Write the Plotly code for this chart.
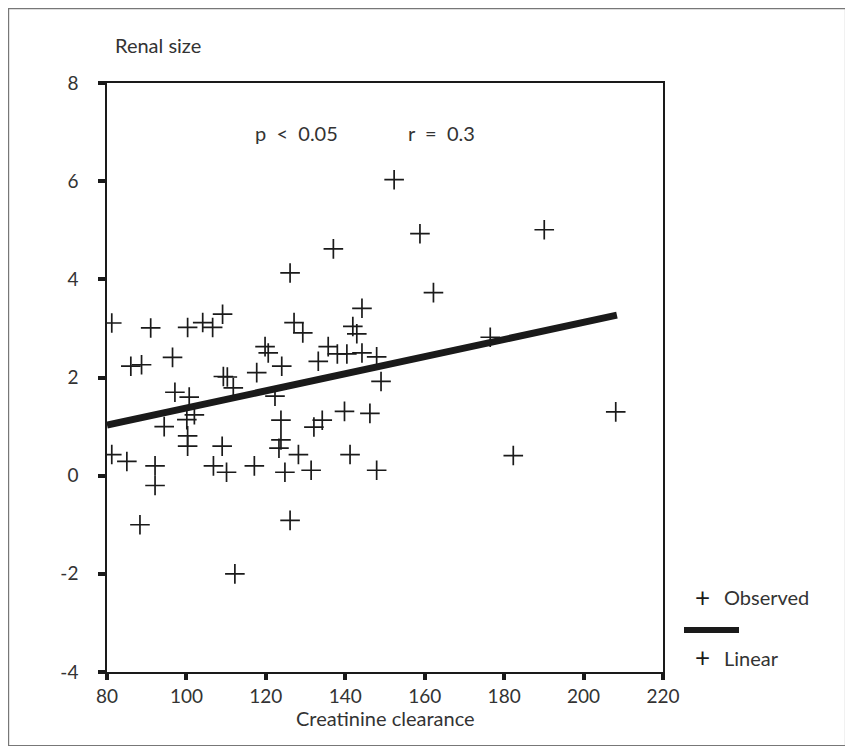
import plotly.graph_objects as go

obs_x = [81.2, 91.0, 100.3, 104.1, 106.6, 109.1,
         86.0, 88.7, 96.5, 97.1, 100.7, 109.3, 110.3, 111.8, 117.7, 119.8, 120.6,
         94.4, 100.1, 102.0, 100.3, 100.3, 81.2, 85.0, 92.1, 92.1, 88.3, 109.0, 106.8, 110.1, 117.1, 112.2,
         152.3, 158.8, 137.0, 126.1, 162.2,
         144.2, 127.1, 129.3, 141.9, 142.9, 135.7, 138.0, 140.4, 144.2, 147.9, 133.2, 124.0, 149.0, 122.3, 139.8, 146.2,
         123.8, 134.2, 132.1, 123.8, 123.3, 128.2, 141.2, 124.8, 131.4, 147.9, 126.1,
         190.1, 176.5, 208.1, 182.3]
obs_y = [3.11, 3.01, 3.02, 3.12, 3.02, 3.29,
         2.23, 2.26, 2.41, 1.70, 1.60, 2.02, 2.01, 1.79, 2.10, 2.63, 2.50,
         1.00, 1.14, 1.24, 0.81, 0.60, 0.43, 0.29, 0.20, -0.20, -1.00, 0.60, 0.20, 0.07, 0.20, -2.00,
         6.03, 4.93, 4.62, 4.13, 3.73,
         3.41, 3.12, 2.91, 3.04, 2.89, 2.63, 2.48, 2.48, 2.50, 2.42, 2.33, 2.23, 1.92, 1.62, 1.31, 1.27,
         1.13, 1.13, 0.99, 0.73, 0.56, 0.43, 0.43, 0.07, 0.11, 0.11, -0.91,
         5.01, 2.82, 1.30, 0.41]

# Linear fit line
fit_x = [80, 100, 120, 140, 160, 180, 200, 208.4]
fit_y = [1.03, 1.38, 1.73, 2.08, 2.43, 2.77, 3.12, 3.27]

x_ticks = [80, 100, 120, 140, 160, 180, 200, 220]
y_ticks = [-4, -2, 0, 2, 4, 6, 8]

FONT = "Lato"
TXT = "#333333"
INK = "#1a1a1a"
FS = 20
TFS = 19

fig = go.Figure()
fig.add_trace(go.Scatter(x=fit_x, y=fit_y, mode="lines",
                         line=dict(color=INK, width=7), showlegend=False, hoverinfo="skip"))
fig.add_trace(go.Scatter(x=obs_x, y=obs_y, mode="markers",
                         marker=dict(symbol="cross-thin", size=14,
                                     line=dict(color=INK, width=1.7)),
                         showlegend=False))

# page body has an 8px margin: figure starts at window (8, 8)
OFF = 8
W, H = 853 - OFF, 753 - OFF
L, R, T, B = 107 - OFF, 663 - OFF, 83 - OFF, 672 - OFF
pw, ph = R - L, B - T

def px(xw):
    return (xw - OFF - L) / pw

def py(yw):
    return (B - (yw - OFF)) / ph

fig.update_layout(
    width=W, height=H,
    margin=dict(l=L, r=W - R, t=T, b=H - B),
    paper_bgcolor="white", plot_bgcolor="white",
    font=dict(family=FONT, color=TXT, size=FS),
    showlegend=False,
    xaxis=dict(range=[80, 220], tickvals=x_ticks, ticktext=[str(v) for v in x_ticks],
               showgrid=False, zeroline=False, showline=True, linecolor=INK, linewidth=1.5,
               mirror=True, ticks="outside", ticklen=6, tickwidth=3.5, tickcolor=INK,
               tickfont=dict(size=TFS, color=TXT), ticklabelstandoff=0),
    yaxis=dict(range=[-4, 8], tickvals=y_ticks, ticktext=[str(v) for v in y_ticks],
               showgrid=False, zeroline=False, showline=True, linecolor=INK, linewidth=1.5,
               mirror=True, ticks="outside", ticklen=7, tickwidth=3.5, tickcolor=INK,
               tickfont=dict(size=TFS, color=TXT), ticklabelstandoff=16),
)

annotations = [
    dict(text="Renal size", x=px(113), y=py(45), xanchor="left", yanchor="middle"),
    dict(text="p  <  0.05", x=px(296), y=py(133), xanchor="center", yanchor="middle"),
    dict(text="r  =  0.3", x=px(441), y=py(133), xanchor="center", yanchor="middle"),
    dict(text="Creatinine clearance", x=px(385), y=py(704), xanchor="center", yanchor="top"),
    dict(text="+", x=px(702), y=py(597), xanchor="center", yanchor="middle", font=dict(size=26, color=INK)),
    dict(text="Observed", x=px(722), y=py(597), xanchor="left", yanchor="middle"),
    dict(text="+", x=px(702), y=py(657), xanchor="center", yanchor="middle", font=dict(size=26, color=INK)),
    dict(text="Linear", x=px(722), y=py(658), xanchor="left", yanchor="middle"),
]
for a in annotations:
    a.update(xref="paper", yref="paper", showarrow=False)
    if "font" not in a:
        a["font"] = dict(size=FS, color=TXT, family=FONT)
    else:
        a["font"]["family"] = FONT
fig.update_layout(annotations=annotations)

fig.update_layout(shapes=[
    dict(type="rect", xref="paper", yref="paper", x0=px(8.6), x1=px(845.5), y0=py(745.5), y1=py(8.6),
         line=dict(color="#777777", width=1.2), layer="below"),
    dict(type="line", xref="paper", yref="paper", x0=px(684), x1=px(739), y0=py(630), y1=py(630),
         line=dict(color=INK, width=6)),
])

fig.write_html("out.html")
